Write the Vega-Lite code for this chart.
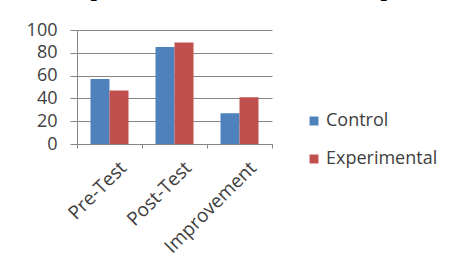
{
  "$schema": "https://vega.github.io/schema/vega-lite/v6.json",
  "width": 195,
  "height": 114,
  "autosize": {"type": "none"},
  "padding": {"left": 77, "top": 30, "right": 185, "bottom": 129},
  "background": "white",
  "title": {
    "text": "Experimental and Control Group",
    "font": "Liberation Serif",
    "fontWeight": "bold",
    "fontSize": 23,
    "color": "#000000",
    "anchor": "middle",
    "baseline": "alphabetic",
    "offset": 2,
    "dx": 54
  },
  "data": {
    "values": [
      {"test": "Pre-Test", "group": "Control", "value": 57},
      {"test": "Pre-Test", "group": "Experimental", "value": 47},
      {"test": "Post-Test", "group": "Control", "value": 85},
      {"test": "Post-Test", "group": "Experimental", "value": 89},
      {"test": "Improvement", "group": "Control", "value": 27},
      {"test": "Improvement", "group": "Experimental", "value": 41}
    ]
  },
  "mark": {"type": "bar"},
  "encoding": {
    "x": {
      "field": "test",
      "type": "nominal",
      "sort": ["Pre-Test", "Post-Test", "Improvement"],
      "scale": {"paddingInner": 0, "paddingOuter": 0},
      "axis": {
        "title": null,
        "labelAngle": -45,
        "labelFont": "Open Sans",
        "labelFontSize": 19,
        "labelColor": "#404040",
        "labelOffset": 7,
        "labelPadding": 10,
        "tickBand": "extent",
        "tickColor": "#868686",
        "tickSize": 4,
        "domainColor": "#868686",
        "grid": false
      }
    },
    "xOffset": {
      "field": "group",
      "type": "nominal",
      "scale": {"paddingInner": 0, "paddingOuter": 0.71}
    },
    "y": {
      "field": "value",
      "type": "quantitative",
      "scale": {"domain": [0, 100], "nice": false},
      "axis": {
        "title": null,
        "values": [0, 20, 40, 60, 80, 100],
        "labelFont": "Open Sans",
        "labelFontSize": 18,
        "labelColor": "#404040",
        "labelPadding": 13,
        "tickSize": 7,
        "tickColor": "#868686",
        "domainColor": "#868686",
        "gridColor": "#868686",
        "gridWidth": 1
      }
    },
    "color": {
      "field": "group",
      "type": "nominal",
      "scale": {"domain": ["Control", "Experimental"], "range": ["#4F81BD", "#C0504D"]},
      "legend": {
        "title": null,
        "orient": "none",
        "legendX": 228,
        "legendY": 82,
        "symbolType": "square",
        "symbolSize": 80,
        "symbolStrokeWidth": 0,
        "labelFont": "Open Sans",
        "labelFontSize": 18,
        "labelColor": "#404040",
        "labelOffset": 3,
        "rowPadding": 20
      }
    }
  },
  "config": {
    "view": {"stroke": null}
  }
}
